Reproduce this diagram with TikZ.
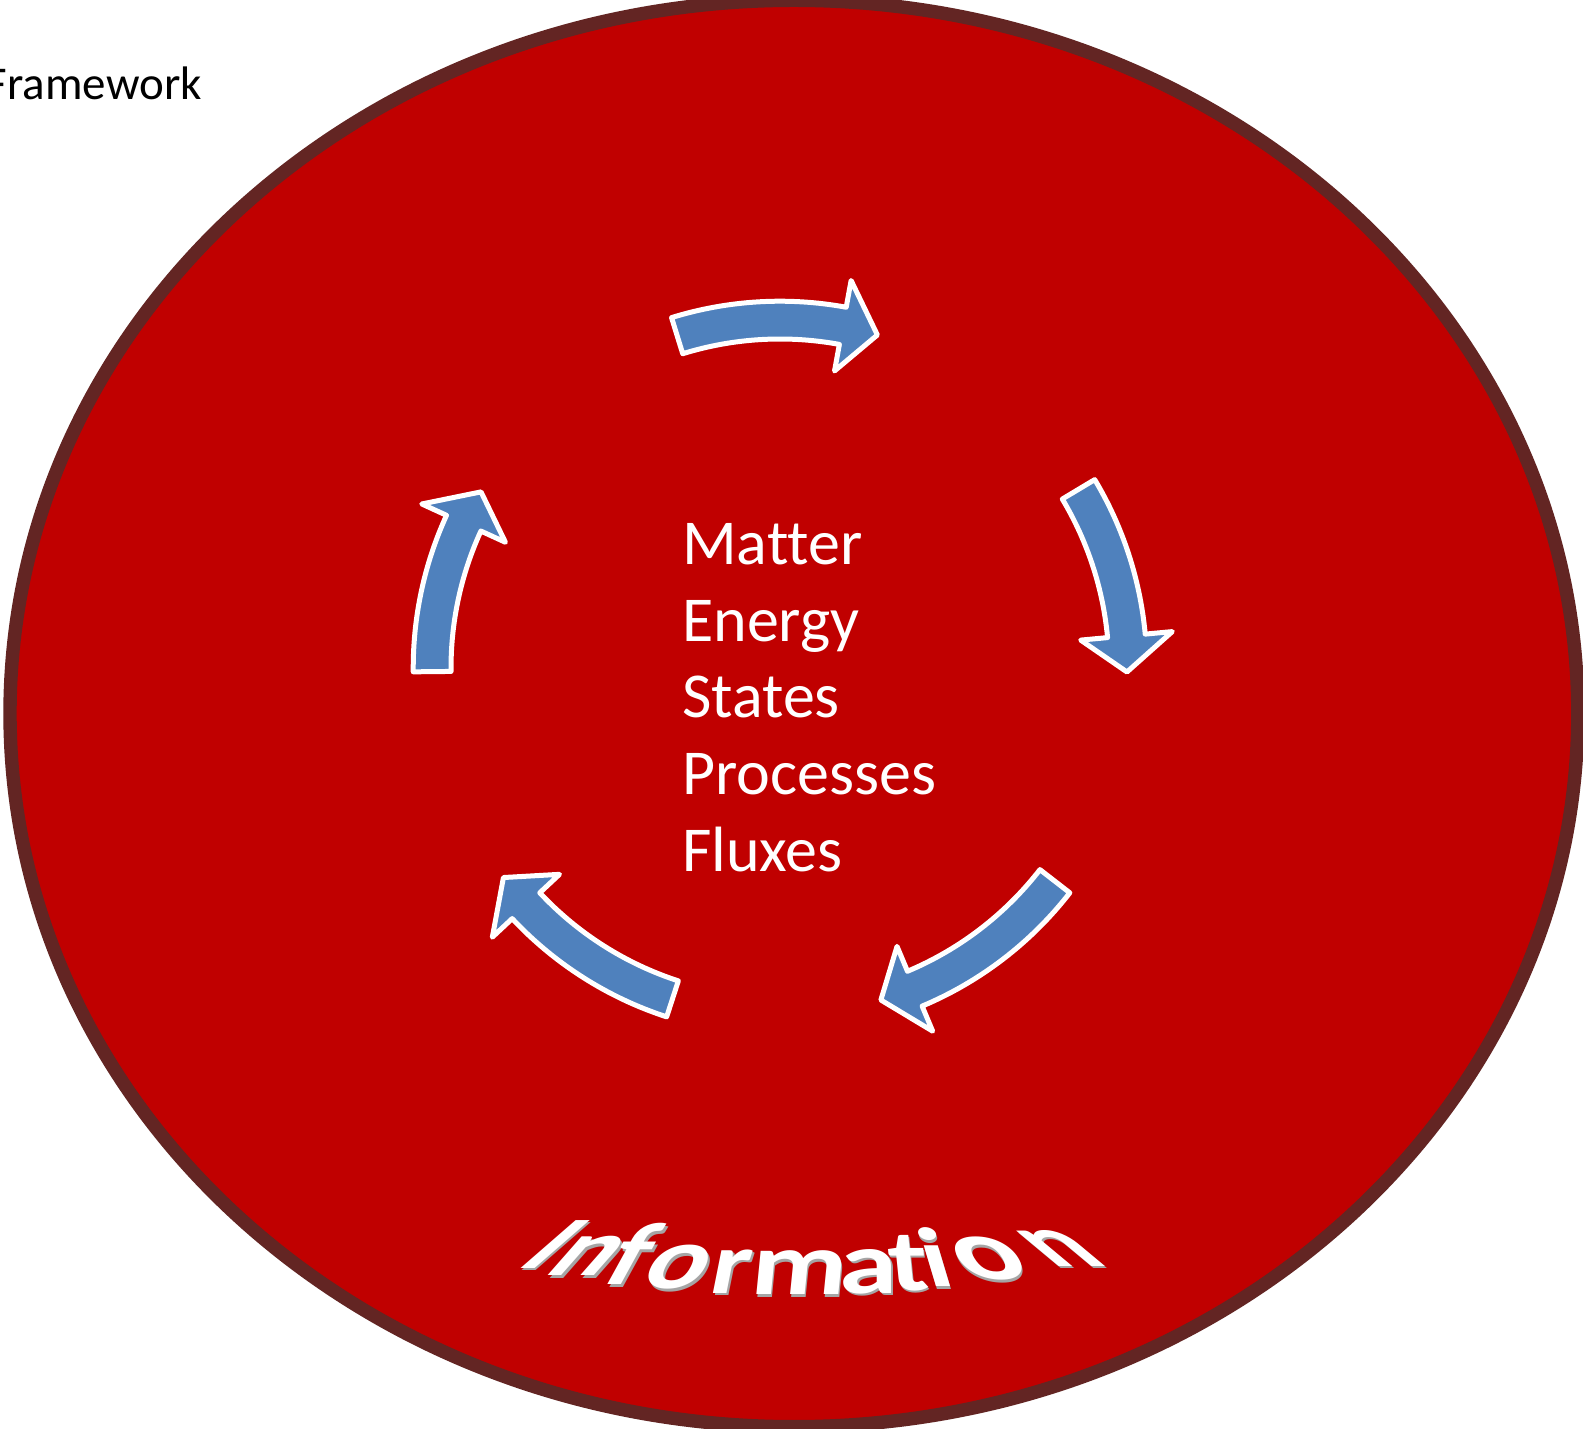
\documentclass[tikz,border=0pt]{standalone}
\usepackage{fontspec}
\setmainfont{Carlito}[Ligatures=NoCommon]
\usetikzlibrary{calc}
\definecolor{ringred}{HTML}{C00000}
\definecolor{ringedge}{HTML}{632523}
\definecolor{arrowblue}{HTML}{4F81BD}
\definecolor{bevelgray}{HTML}{A5A5A5}
\tikzset{
  cyclearrow/.style={fill=arrowblue, draw=white, line width=5pt, line join=round},
  listitem/.style={anchor=base west, inner sep=0pt, text=white, font=\fontsize{64}{64}\selectfont},
  infochar/.style={anchor=base, inner sep=0pt, font=\fontsize{84}{84}\selectfont\bfseries},
  infotext/.style={infochar, text=white},
  infoshade/.style={infochar, text=bevelgray},
  titletext/.style={anchor=base east, inner sep=0pt, text=black, font=\fontsize{47}{47}\selectfont},
}
% name, x, y, slant, xscale, yscale, char
\newcommand\infoletter[7]{%
  \node[infoshade, xslant=#4, xscale=#5, yscale=#6] (#1s) at (#2+1.5, #3-2.5) {#7};
  \node[infotext, xslant=#4, xscale=#5, yscale=#6] (#1) at (#2, #3) {#7};
}
\begin{document}
\begin{tikzpicture}[x=1pt, y=1pt]
\useasboundingbox (0,0) rectangle (1583,1428);
\clip (0,0) rectangle (1583,1428);
% ring
\draw[draw=ringedge, fill=ringred, line width=13.4pt] (793.9,714.5) ellipse [x radius=783.9pt, y radius=713.2pt];
% title
\node[titletext] (title) at (202,1328) {Framework};
% arrows
\begin{scope}[shift={(780,760)}]
\draw[cyclearrow] (107.2:366.8pt) arc[start angle=107.2, end angle=79.6, radius=366.8pt] -- (79.6:394pt) -- (73.7:347pt) -- (79.6:302pt) -- (79.6:329pt) arc[start angle=79.6, end angle=107.2, radius=329pt] -- cycle;
\draw[cyclearrow] (30.9:366.8pt) arc[start angle=30.9, end angle=5.3, radius=366.8pt] -- (5.3:394pt) -- (-0.66:347pt) -- (5.3:302pt) -- (5.3:329pt) arc[start angle=5.3, end angle=30.9, radius=329pt] -- cycle;
\draw[cyclearrow] (-37.8:366.8pt) arc[start angle=-37.8, end angle=-67.2, radius=366.8pt] -- (-67.2:394pt) -- (-73.1:347pt) -- (-67.2:302pt) -- (-67.2:329pt) arc[start angle=-67.2, end angle=-37.8, radius=329pt] -- cycle;
\draw[cyclearrow] (-108:366.8pt) arc[start angle=-108, end angle=-136.9, radius=366.8pt] -- (-136.9:394pt) -- (-142.85:347pt) -- (-136.9:302pt) -- (-136.9:329pt) arc[start angle=-136.9, end angle=-108, radius=329pt] -- cycle;
\draw[cyclearrow] (180.6:366.8pt) arc[start angle=180.6, end angle=155.4, radius=366.8pt] -- (155.4:394pt) -- (149.5:347pt) -- (155.4:302pt) -- (155.4:329pt) arc[start angle=155.4, end angle=180.6, radius=329pt] -- cycle;
\end{scope}
% list
\node[listitem] (matter) at (682,863) {Matter};
\node[listitem] (energy) at (682,786) {Energy};
\node[listitem] (states) at (682,710) {States};
\node[listitem] (processes) at (682,633) {Processes};
\node[listitem] (fluxes) at (682,556) {Fluxes};
% Information
\infoletter{i1}{528}{160}{1.15}{1.3}{0.88}{I}
\infoletter{i2}{571}{152}{0.88}{1.3}{0.95}{n}
\infoletter{i3}{617}{143}{0.55}{1.3}{1.05}{f}
\infoletter{i4}{668}{139}{0.5}{1.35}{1.05}{o}
\infoletter{i5}{727}{134.5}{0.2}{1.3}{1.05}{r}
\infoletter{i6}{797}{133}{0.1}{1.4}{1.06}{m}
\infoletter{i7}{869}{135}{0}{1.4}{1.06}{a}
\infoletter{i8}{911}{137.5}{-0.1}{1.35}{1.04}{t}
\infoletter{i9}{943}{141}{-0.3}{1.35}{1.0}{i}
\infoletter{i10}{1001}{148}{-0.6}{1.5}{1.03}{o}
\infoletter{i11}{1082}{162}{-1.2}{1.3}{0.87}{n}
\end{tikzpicture}
\end{document}
